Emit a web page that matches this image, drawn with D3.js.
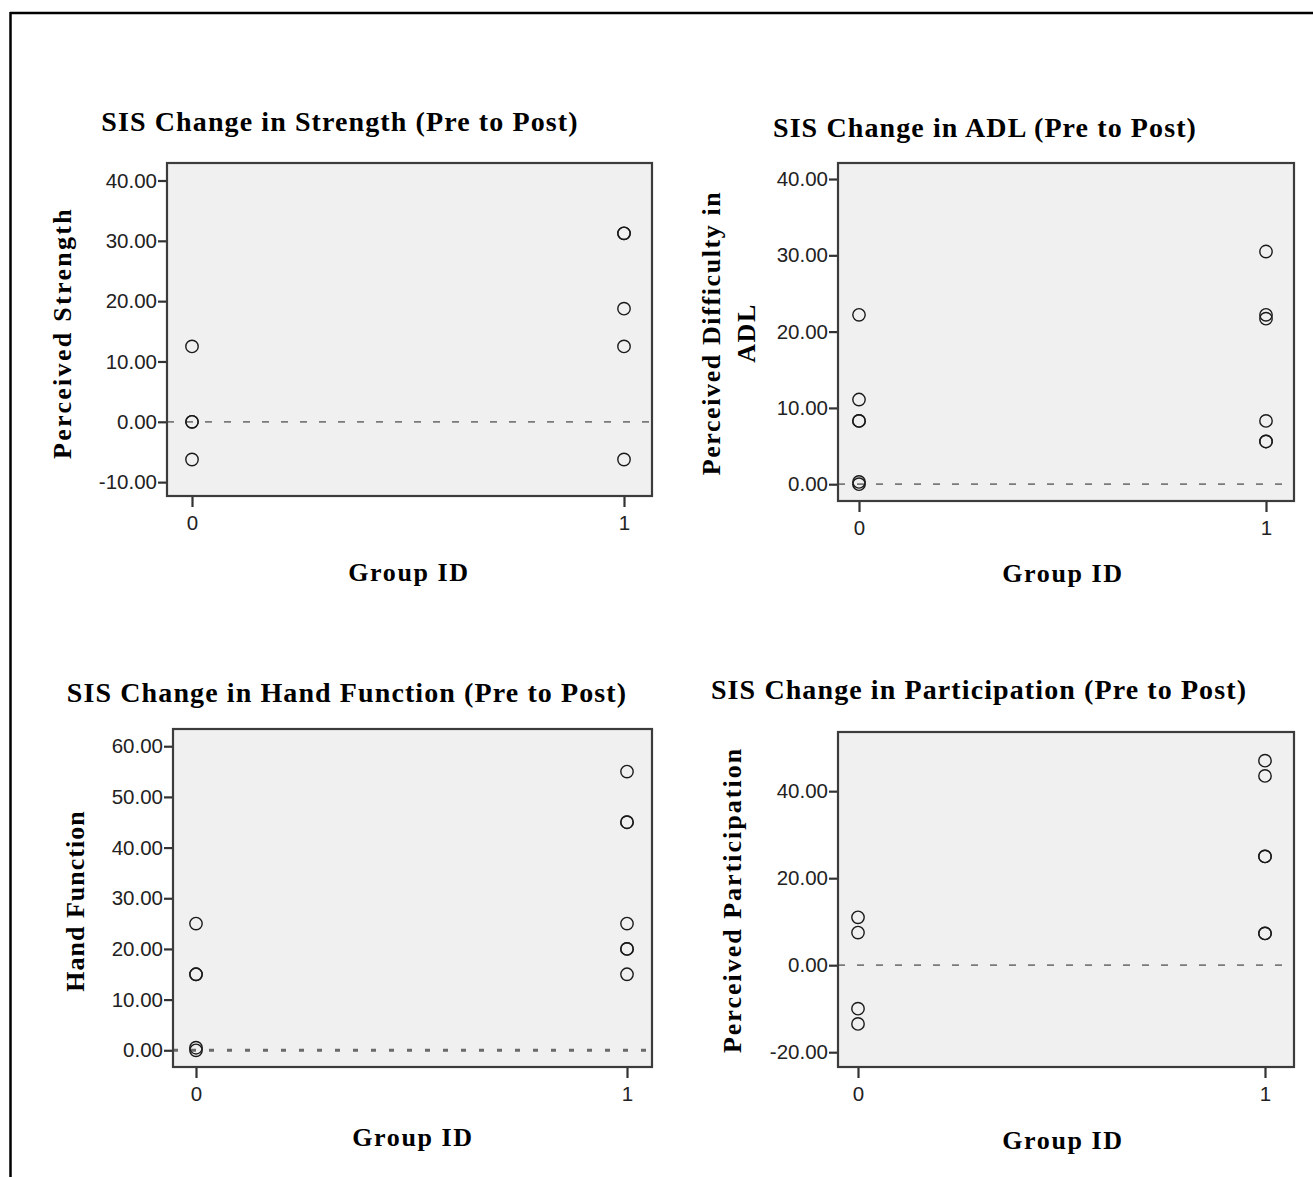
<!DOCTYPE html>
<html>
<head>
<meta charset="utf-8">
<script src="https://cdn.jsdelivr.net/npm/d3@7"></script>
<style>
  html, body { margin: 0; padding: 0; background: #fff; }
  svg { display: block; }
  .title, .ylab, .xlab { font-family: "Liberation Serif", "Times New Roman", serif; font-weight: bold; fill: #000; }
  .tick text { font-family: "Liberation Sans", Arial, sans-serif; fill: #222; }
</style>
</head>
<body>
<svg id="chart" width="1313" height="1177"></svg>
<script>
// ---------- data ----------
const groups = [0, 1];

const strengthTitle = "SIS Change in Strength (Pre to Post)";
const strengthYLabel = ["Perceived Strength"];
const strengthTicks = [-10, 0, 10, 20, 30, 40];
const strengthGroup0 = [12.5, 0, 0, -6.25];
const strengthGroup1 = [31.25, 31.25, 18.75, 12.5, -6.25];

const adlTitle = "SIS Change in ADL (Pre to Post)";
const adlYLabel = ["Perceived Difficulty in", "ADL"];
const adlTicks = [0, 10, 20, 30, 40];
const adlGroup0 = [22.2, 11.1, 8.3, 8.3, 0.3, 0];
const adlGroup1 = [30.5, 22.2, 21.7, 8.3, 5.6, 5.6];

const handTitle = "SIS Change in Hand Function (Pre to Post)";
const handYLabel = ["Hand Function"];
const handTicks = [0, 10, 20, 30, 40, 50, 60];
const handGroup0 = [25, 15, 15, 0.5, 0];
const handGroup1 = [55, 45, 45, 25, 20, 20, 15];

const partTitle = "SIS Change in Participation (Pre to Post)";
const partYLabel = ["Perceived Participation"];
const partTicks = [-20, 0, 20, 40];
const partGroup0 = [11, 7.5, -10, -13.5];
const partGroup1 = [47, 43.5, 25, 25, 7.3, 7.3];

const xLabel = "Group ID";

// ---------- layout ----------
const panels = [
  { title: strengthTitle, ylab: strengthYLabel, ticks: strengthTicks, g0: strengthGroup0, g1: strengthGroup1,
    plot: [167, 163, 652, 496], xr: [192, 624], yd: [-12.3, 42.9],
    titlePos: [340, 131], ylabX: [71], ylabY: 333, ylabLS: 2.3, xlabPos: [409, 581], dash: "7,12", dashW: 1.8, dashC: "#7a7a7a" },
  { title: adlTitle, ylab: adlYLabel, ticks: adlTicks, g0: adlGroup0, g1: adlGroup1,
    plot: [838, 163, 1294, 501], xr: [859, 1266], yd: [-2.2, 42.1],
    titlePos: [985, 137], ylabX: [720, 755], ylabY: 333, ylabLS: 1.6, xlabPos: [1063, 582], dash: "7,12", dashW: 1.8, dashC: "#7a7a7a" },
  { title: handTitle, ylab: handYLabel, ticks: handTicks, g0: handGroup0, g1: handGroup1,
    plot: [173, 729, 652, 1067], xr: [196, 627], yd: [-3.3, 63.4],
    titlePos: [347, 702], ylabX: [84], ylabY: 901, ylabLS: 1, xlabPos: [413, 1146], dash: "5,13", dashW: 3, dashC: "#6a6a6a" },
  { title: partTitle, ylab: partYLabel, ticks: partTicks, g0: partGroup0, g1: partGroup1,
    plot: [838, 732, 1294, 1067], xr: [858, 1265], yd: [-23.4, 53.6],
    titlePos: [979, 699], ylabX: [741], ylabY: 900, ylabLS: 2, xlabPos: [1063, 1149], dash: "7,12", dashW: 1.8, dashC: "#7a7a7a" }
];

const svg = d3.select("#chart");
const fmt = v => d3.format(".2f")(v).replace("\u2212", "-");

// outer frame (top and left)
svg.append("line").attr("x1", 10).attr("y1", 13).attr("x2", 1313).attr("y2", 13)
  .attr("stroke", "#000").attr("stroke-width", 2.5);
svg.append("line").attr("x1", 10.5).attr("y1", 12).attr("x2", 10.5).attr("y2", 1177)
  .attr("stroke", "#000").attr("stroke-width", 2.5);

panels.forEach(p => {
  const [x0, y0, x1, y1] = p.plot;
  const x = d3.scaleLinear().domain([0, 1]).range(p.xr);
  const y = d3.scaleLinear().domain(p.yd).range([y1, y0]);
  const g = svg.append("g");

  // background
  g.append("rect").attr("x", x0).attr("y", y0).attr("width", x1 - x0).attr("height", y1 - y0)
    .attr("fill", "#f0f0f0").attr("stroke", "none");

  // zero reference line
  g.append("line").attr("x1", x0).attr("x2", x1).attr("y1", y(0)).attr("y2", y(0))
    .attr("stroke", p.dashC).attr("stroke-width", p.dashW).attr("stroke-dasharray", p.dash);

  // points
  const pts = p.g0.map(v => ({ gx: groups[0], v })).concat(p.g1.map(v => ({ gx: groups[1], v })));
  g.selectAll("circle.pt").data(pts).enter().append("circle")
    .attr("class", "pt")
    .attr("cx", d => x(d.gx)).attr("cy", d => y(d.v)).attr("r", 6.2)
    .attr("fill", "none").attr("stroke", "#1a1a1a").attr("stroke-width", 1.4);

  // frame
  g.append("rect").attr("x", x0).attr("y", y0).attr("width", x1 - x0).attr("height", y1 - y0)
    .attr("fill", "none").attr("stroke", "#3c3c3c").attr("stroke-width", 2.2);

  // y axis
  const ya = d3.axisLeft(y).tickValues(p.ticks).tickFormat(fmt).tickSize(8).tickPadding(1);
  const yg = g.append("g").attr("transform", `translate(${x0 - 1},0)`).call(ya);
  yg.select(".domain").remove();
  yg.selectAll(".tick line").attr("stroke", "#333").attr("stroke-width", 2.2);
  yg.selectAll(".tick text").attr("font-size", 20.5).attr("fill", "#222");

  // x axis
  const xa = d3.axisBottom(x).tickValues(groups).tickFormat(d3.format("d")).tickSize(10).tickPadding(8);
  const xg = g.append("g").attr("transform", `translate(0,${y1 + 1})`).call(xa);
  xg.select(".domain").remove();
  xg.selectAll(".tick line").attr("stroke", "#333").attr("stroke-width", 2.2);
  xg.selectAll(".tick text").attr("font-size", 20.5).attr("fill", "#222");

  // title
  g.append("text").attr("class", "title").attr("x", p.titlePos[0]).attr("y", p.titlePos[1])
    .attr("text-anchor", "middle").attr("font-size", 28).attr("letter-spacing", 1.1).text(p.title);

  // y label
  p.ylab.forEach((t, i) => {
    g.append("text").attr("class", "ylab")
      .attr("transform", `translate(${p.ylabX[i]},${p.ylabY}) rotate(-90)`)
      .attr("text-anchor", "middle").attr("font-size", 26).attr("letter-spacing", p.ylabLS).text(t);
  });

  // x label
  g.append("text").attr("class", "xlab").attr("x", p.xlabPos[0]).attr("y", p.xlabPos[1])
    .attr("text-anchor", "middle").attr("font-size", 26).attr("letter-spacing", 1.6).text(xLabel);
});
</script>
</body>
</html>
